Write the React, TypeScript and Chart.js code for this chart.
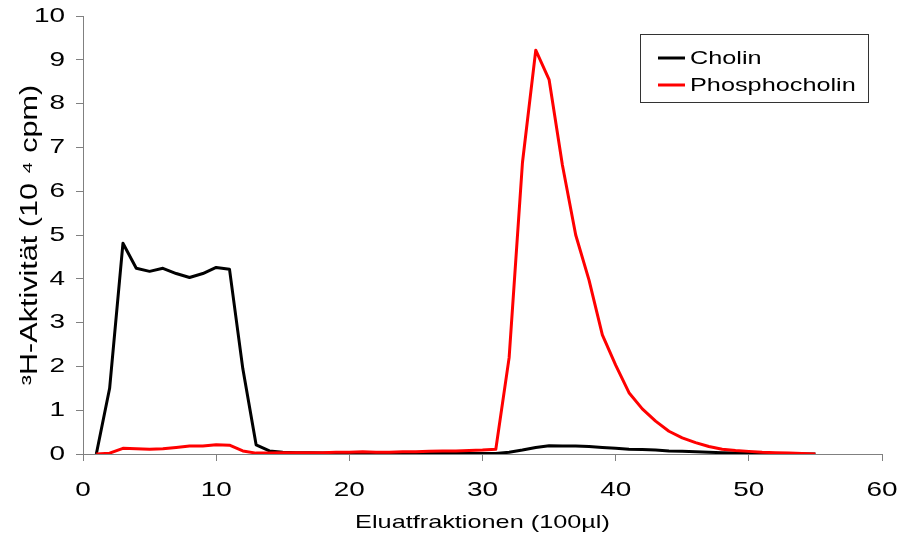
import { useEffect, useRef } from 'react';
import { Chart, registerables } from 'chart.js';

Chart.register(...registerables);

const fractions = [
  1, 2, 3, 4, 5, 6, 7, 8, 9, 10, 11, 12, 13, 14, 15, 16, 17, 18, 19, 20,
  21, 22, 23, 24, 25, 26, 27, 28, 29, 30, 31, 32, 33, 34, 35, 36, 37, 38, 39, 40,
  41, 42, 43, 44, 45, 46, 47, 48, 49, 50, 51, 52, 53, 54, 55,
];

const cholin = [
  0, 1.5, 4.81, 4.24, 4.17, 4.24, 4.12, 4.03, 4.12, 4.26, 4.22, 1.95, 0.21, 0.07, 0.04, 0.03, 0.03, 0.02, 0.02, 0.02,
  0.02, 0.02, 0.01, 0.01, 0.01, 0.01, 0.01, 0.01, 0.01, 0.01, 0.01, 0.04, 0.09, 0.15, 0.19, 0.18, 0.18, 0.17, 0.15, 0.13,
  0.11, 0.1, 0.09, 0.07, 0.06, 0.05, 0.04, 0.03, 0.02, 0.01, 0.01, 0.01, 0, 0, 0,
];

const phosphocholin = [
  0, 0.02, 0.13, 0.12, 0.11, 0.12, 0.15, 0.18, 0.18, 0.21, 0.2, 0.07, 0.02, 0.02, 0.03, 0.03, 0.03, 0.03, 0.04, 0.04,
  0.05, 0.04, 0.04, 0.05, 0.05, 0.06, 0.07, 0.07, 0.08, 0.09, 0.11, 2.2, 6.65, 9.22, 8.55, 6.6, 5.0, 3.97, 2.72, 2.03,
  1.4, 1.03, 0.75, 0.52, 0.37, 0.26, 0.17, 0.11, 0.08, 0.06, 0.04, 0.03, 0.02, 0.01, 0,
];

const seriesNames = ['Cholin', 'Phosphocholin'];
const seriesColors = ['#000000', '#FF0000'];
const xTitle = 'Eluatfraktionen (100µl)';
const yTitle = '³H-Aktivität (10 ⁴ cpm)';

const FONT = "'Liberation Sans', Arial, sans-serif";
const STRETCH = 1.33;

// Reference text is rendered horizontally widened; emulate by stretching glyphs along the text direction
const stretchTextPlugin = {
  id: 'stretchText',
  beforeInit(chart: any) {
    const ctx: any = chart.ctx;
    if (ctx.__stretched) return;
    const orig = ctx.fillText.bind(ctx);
    ctx.fillText = (text: string, x: number, y: number, maxWidth?: number) => {
      ctx.save();
      ctx.translate(x, y);
      ctx.scale(STRETCH, 1);
      if (maxWidth === undefined) orig(text, 0, 0);
      else orig(text, 0, 0, maxWidth / STRETCH);
      ctx.restore();
    };
    ctx.__stretched = true;
  },
};

const boxLegendPlugin = {
  id: 'boxLegend',
  afterDraw(chart: any) {
    const { ctx, chartArea } = chart;
    const w = 228;
    const h = 68;
    const left = chartArea.right - 14 - w;
    const top = chartArea.top + 18;
    ctx.save();
    ctx.fillStyle = '#ffffff';
    ctx.fillRect(left, top, w, h);
    ctx.strokeStyle = '#333333';
    ctx.lineWidth = 1;
    ctx.strokeRect(left + 0.5, top + 0.5, w, h);
    ctx.font = `19px ${FONT}`;
    ctx.textBaseline = 'middle';
    ctx.textAlign = 'left';
    seriesNames.forEach((name, i) => {
      const y = top + 24 + i * 27;
      ctx.strokeStyle = seriesColors[i];
      ctx.lineWidth = 3;
      ctx.beginPath();
      ctx.moveTo(left + 18, y);
      ctx.lineTo(left + 45, y);
      ctx.stroke();
      ctx.fillStyle = '#000000';
      ctx.fillText(name, left + 50, y + 1);
    });
    ctx.restore();
  },
};

export default function App() {
  const canvasRef = useRef<HTMLCanvasElement | null>(null);

  useEffect(() => {
    const canvas = canvasRef.current;
    if (!canvas) return;
    const chart = new Chart(canvas, {
      type: 'line',
      data: {
        datasets: [
          {
            label: seriesNames[1],
            data: fractions.map((f, i) => ({ x: f, y: phosphocholin[i] })),
            borderColor: seriesColors[1],
            backgroundColor: seriesColors[1],
            borderWidth: 3,
            pointRadius: 0,
            tension: 0,
            borderJoinStyle: 'round',
            order: 0,
          },
          {
            label: seriesNames[0],
            data: fractions.map((f, i) => ({ x: f, y: cholin[i] })),
            borderColor: seriesColors[0],
            backgroundColor: seriesColors[0],
            borderWidth: 3,
            pointRadius: 0,
            tension: 0,
            borderJoinStyle: 'round',
            order: 1,
          },
        ],
      },
      options: {
        responsive: false,
        animation: false,
        layout: { padding: { top: 16, right: 16, left: 0, bottom: 0 } },
        plugins: {
          legend: { display: false },
          tooltip: { enabled: false },
        },
        scales: {
          x: {
            type: 'linear',
            min: 0,
            max: 60,
            ticks: {
              stepSize: 10,
              color: '#000000',
              padding: 17,
              font: { family: FONT, size: 21 },
              autoSkip: false,
              maxRotation: 0,
            },
            grid: { drawOnChartArea: false, drawTicks: true, tickLength: 7, color: '#808080' },
            border: { display: true, color: '#808080', width: 1 },
            title: {
              display: true,
              text: xTitle,
              color: '#000000',
              font: { family: FONT, size: 19 },
              padding: { top: 0, bottom: 1 },
            },
            afterFit: (scale: any) => {
              scale.height = 81;
              scale.paddingLeft = 0;
              scale.paddingRight = 0;
            },
          },
          y: {
            type: 'linear',
            min: 0,
            max: 10,
            ticks: {
              stepSize: 1,
              color: '#000000',
              padding: 11,
              font: { family: FONT, size: 21 },
              autoSkip: false,
            },
            grid: { drawOnChartArea: false, drawTicks: true, tickLength: 7, color: '#808080' },
            border: { display: true, color: '#808080', width: 1 },
            title: {
              display: true,
              text: yTitle,
              color: '#000000',
              font: { family: FONT, size: 23 },
              padding: { top: 17, bottom: 0 },
            },
            afterFit: (scale: any) => {
              scale.width = 83;
              scale.paddingTop = 0;
              scale.paddingBottom = 0;
            },
          },
        },
      },
      plugins: [stretchTextPlugin, boxLegendPlugin],
    });
    return () => chart.destroy();
  }, []);

  return (
    <div style={{ position: 'absolute', left: 0, top: 0, width: 898, height: 535, background: '#ffffff' }}>
      <canvas ref={canvasRef} width={898} height={535} style={{ display: 'block' }} />
    </div>
  );
}
